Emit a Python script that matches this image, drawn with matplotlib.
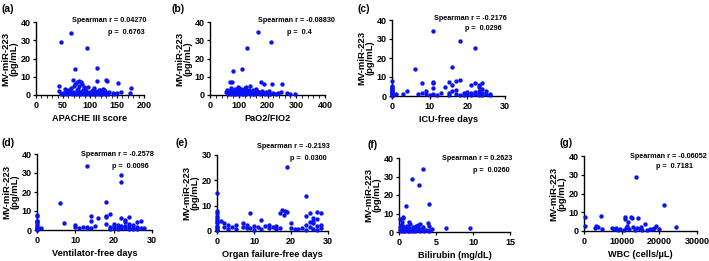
import matplotlib
matplotlib.use("Agg")
import matplotlib.pyplot as plt

plt.rcParams['font.family'] = ['Liberation Sans', 'DejaVu Sans']
plt.rcParams['font.weight'] = 'bold'

W, H = 709, 261

# (a) APACHE III score
apache_x = [47, 65, 95, 72, 113, 113, 130, 132, 152, 175, 43, 42, 174, 158, 142,
            69, 75, 80, 83, 85, 73, 71, 80, 88, 60, 78, 97, 105, 118, 122, 126,
            50, 52, 55, 57, 58, 62, 63, 66, 68, 70, 74, 76, 77, 79, 82, 84, 86, 87,
            89, 90, 92, 93, 96, 98, 100, 101, 103, 104, 106, 108, 109, 110, 112, 115,
            116, 117, 119, 120, 121, 123, 124, 125, 127, 128, 131, 134, 136, 145, 150,
            64, 91, 107, 46, 54]
apache_y = [29.0, 34.2, 25.5, 14.0, 15.0, 7.5, 8.0, 7.6, 6.8, 3.8, 4.8, 2.2, 0.9, 1.6, 1.2,
            8.2, 7.3, 7.6, 7.0, 6.3, 6.0, 5.0, 5.2, 4.3, 2.8, 3.5, 4.2, 2.6, 3.0, 2.2, 2.5,
            1.2, 0.6, 2.0, 0.4, 1.5, 0.9, 2.3, 0.5, 1.8, 1.0, 0.3, 2.6, 1.2, 0.7, 1.9, 0.4, 1.4, 2.8,
            0.8, 1.6, 0.3, 2.1, 1.0, 0.5, 1.7, 0.9, 2.4, 0.4, 1.3, 0.7, 2.0, 1.1, 0.5, 1.8,
            0.6, 2.7, 1.0, 0.3, 1.5, 0.8, 3.4, 1.2, 0.5, 2.0, 1.0, 0.6, 1.6, 0.5, 1.0,
            4.0, 3.6, 3.9, 0.8, 3.2]

# (b) PaO2/FIO2
pf_x = [168, 211, 128, 81, 112, 75, 70, 249, 215, 177, 188, 125, 267, 296, 247, 280,
        55, 60, 62, 65, 68, 72, 74, 78, 80, 84, 86, 88, 90, 93, 95, 98, 100, 103, 105,
        108, 110, 114, 116, 118, 120, 122, 126, 130, 133, 136, 138, 140, 145, 148, 150,
        155, 158, 162, 165, 170, 173, 180, 185, 190, 195, 200, 205, 210, 220, 230, 238,
        125, 140, 160, 100]
pf_y = [34.7, 29.2, 25.6, 13.3, 14.4, 7.3, 6.9, 5.9, 6.0, 7.0, 6.0, 4.5, 1.0, 0.5, 1.5, 0.8,
        1.5, 3.0, 0.5, 2.2, 1.0, 4.0, 0.3, 2.5, 1.2, 0.6, 3.5, 1.8, 0.4, 2.7, 1.0, 4.5, 0.5, 2.0, 1.2,
        3.2, 0.3, 1.6, 2.5, 0.8, 4.0, 1.5, 0.4, 2.2, 1.0, 3.0, 0.5, 1.8, 1.2, 0.3, 2.6,
        1.5, 0.6, 2.0, 1.0, 1.7, 0.4, 2.3, 1.1, 0.5, 1.8, 0.8, 2.0, 0.4, 1.2, 0.6, 1.0,
        2.8, 5.0, 3.5, 3.8]

# (c) ICU-free days
icu_x = [11, 18, 22, 6, 16,
         0, 0, 0, 0, 0, 0, 0, 0, 0, 0, 0, 0,
         1, 3, 4, 7, 8, 8, 9, 9, 11, 11, 11, 11, 13, 14, 15, 15, 15, 16, 17, 17, 17, 18, 18,
         19, 20, 21, 21, 21, 22, 22, 22, 23, 23, 23, 23, 23, 24, 24, 24, 24, 25, 25, 26, 26,
         20, 19, 12, 10, 16]
icu_y = [34.2, 29.1, 25.4, 14.0, 15.1,
         8, 5.5, 5, 4.3, 3.5, 3, 2.5, 2, 1.5, 1, 0.6, 0.2,
         1.0, 1.2, 2.4, 0.8, 7.0, 1.8, 2.5, 1.0, 7.5, 6.7, 4.2, 1.2, 1.8, 4.8, 7.4, 1.8, 0.5, 6.0,
         8.1, 3.0, 1.0, 8.3, 0.5,
         1.5, 1.0, 5.8, 1.8, 0.4, 6.6, 2.0, 1.0, 5.7, 4.5, 2.5, 1.2, 0.3, 7.0, 3.8, 1.8, 0.6,
         2.7, 1.2, 1.0, 0.3,
         2.2, 0.4, 0.6, 0.4, 2.5]

# (d) Ventilator-free days
vent_x = [13, 22, 22, 6, 18,
          0, 0, 0, 0, 0, 0, 0, 0, 0, 0, 0, 1,
          7, 10, 10, 11, 12, 13, 13, 14, 14, 14, 15, 16, 18, 18, 18, 19, 19, 19, 20, 20, 21, 21,
          22, 22, 22, 23, 23, 23, 23, 24, 24, 24, 24, 25, 25, 26, 26, 27, 27, 28, 21, 20, 25, 26]
vent_y = [33.8, 28.8, 25.3, 14, 15,
          8, 7.5, 5, 4.5, 4, 3, 2, 1.5, 1, 0.5, 0.2, 1.2,
          3.8, 2.5, 1.8, 1.2, 1.5, 1.8, 0.8, 7.4, 5, 1.2, 2.3, 6.2, 7.4, 6.8, 3.0, 8.3, 1.5, 0.5,
          3.3, 1.0, 2.5, 1.2,
          6.5, 2.0, 0.8, 5.5, 4.0, 2.2, 1.0, 7.0, 3.2, 1.5, 0.6, 2.5, 1.0, 4.0, 1.5, 4.7, 1.0,
          0.8, 0.3, 2.0, 0.3, 0.5]

# (e) Organ failure-free days
organ_x = [19, 24, 0, 0, 0, 0, 0, 0, 0, 0, 0, 0, 0, 0, 0,
           1, 2, 2, 3, 3, 4, 5, 5, 7, 7, 8, 8, 9, 9, 10, 10, 11, 12, 12, 13, 14, 14, 15, 16, 16,
           17, 17, 17.5, 18, 18.5, 19, 20, 20, 21, 22, 23, 24, 24, 24, 25, 25, 26, 26, 26,
           27, 27, 27, 27, 28, 28, 28, 26, 25]
organ_y = [25.3, 14, 15, 8, 7, 6, 5, 4.5, 3.5, 3, 2, 1.5, 1, 0.5, 0.2,
           3.8, 3.2, 1.5, 2.5, 0.8, 1.4, 2.2, 0.8, 3.0, 1.5, 2.5, 1.0, 7.0, 1.2, 2.0, 0.5, 1.5,
           4.2, 0.6, 2.0, 1.0, 2.2, 1.5, 1.8, 0.6,
           1.0, 7.3, 8.3, 6.2, 7.8, 7.6, 3.0, 1.0, 0.8, 0.8, 1.0, 6.0, 2.5, 0.5, 7.0, 1.5, 5.0,
           3.0, 0.8, 7.5, 4.8, 2.0, 0.4, 7.2, 2.5, 1.0, 4.0, 3.5]

# (f) Bilirubin (mg/dL)
bili_x = [3.3, 1.7, 2.75, 0.9, 4.1, 6.3, 9.6, 0.2, 0.5, 0.6, 1.3, 2.5,
          0.1, 0.2, 0.3, 0.3, 0.4, 0.5, 0.6, 0.7, 0.8, 0.9, 1.0, 1.1, 1.2, 1.4, 1.5, 1.6,
          1.8, 1.9, 2.0, 2.2, 2.3, 2.5, 2.6, 2.8, 2.9, 3.0, 3.2, 3.4, 3.7, 3.9, 4.0, 4.2,
          4.4, 4.1, 1.3, 0.4]
bili_y = [34, 28.8, 25.3, 14, 15, 2.2, 2.3, 6.8, 7.5, 7.9, 5.3, 3.7,
          1.0, 2.5, 0.5, 4.0, 1.5, 0.8, 3.0, 1.8, 0.4, 2.2, 1.0, 3.5, 0.6, 2.0, 4.5, 1.2,
          0.5, 2.8, 1.5, 0.8, 3.2, 1.0, 2.2, 4.2, 0.5, 1.6, 2.5, 0.8, 1.2, 4.8, 3.5, 1.0,
          1.8, 0.3, 0.3, 5.5]

# (g) WBC (cells/uL)
wbc_x = [13700, 21300, 200, 300, 4500, 3300, 3800, 3000, 4700, 10800, 10800, 12400, 12800,
         11800, 14300, 24500, 19200, 16200,
         7500, 8000, 8500, 9000, 9500, 10500, 11200, 11500, 12000, 13000, 13500, 14000,
         14800, 15200, 16800, 17500, 18200, 18700, 19800, 15500]
wbc_y = [29, 14, 7.6, 2.5, 8, 2.9, 2.0, 1.6, 1.0, 6.3, 7.3, 7.5, 7.0,
         5, 7.0, 2.3, 2.8, 3.5,
         1.8, 1.0, 1.6, 0.5, 1.2, 0.8, 1.8, 2.5, 1.0, 2.2, 0.6, 1.5,
         1.0, 2.0, 0.8, 1.2, 0.9, 1.5, 1.3, 0.4]

panels = [
    # label, x, y, xlabel, xlim, xticks, minor step, ylim, r, p
    ('(a)', apache_x, apache_y, 'APACHE III score', 200, [0, 50, 100, 150, 200], 10, 40, '0.04270', '0.6763'),
    ('(b)', pf_x, pf_y, 'PaO2/FIO2', 400, [0, 100, 200, 300, 400], 20, 40, '-0.08830', '0.4'),
    ('(c)', icu_x, icu_y, 'ICU-free days', 30, [0, 10, 20, 30], None, 40, '-0.2176', '0.0296'),
    ('(d)', vent_x, vent_y, 'Ventilator-free days', 30, [0, 10, 20, 30], None, 40, '-0.2578', '0.0096'),
    ('(e)', organ_x, organ_y, 'Organ failure-free days', 30, [0, 10, 20, 30], None, 30, '-0.2193', '0.0300'),
    ('(f)', bili_x, bili_y, 'Bilirubin (mg/dL)', 15, [0, 5, 10, 15], None, 40, '0.2623', '0.0260'),
    ('(g)', wbc_x, wbc_y, 'WBC (cells/\u00b5L)', 30000, [0, 10000, 20000, 30000], None, 40, '-0.06052', '0.7181'),
]

# pixel boxes of the axes: left, right, top, bottom
boxes = [(36, 144, 22, 95), (210, 325, 22, 95), (392, 505, 20, 96),
         (37, 152, 154, 230), (217, 328, 155, 231), (399, 510, 158, 232), (584, 697, 156, 231)]
# panel label position (left, center y)
label_pos = [(2, 9), (172, 9), (357, 9), (2, 143), (175, 143), (367, 145), (560, 143)]
# spearman line end x, y ; p line start x, y
stat_pos = [(146, 21, 108, 33), (335, 20, 287, 33), (507, 18, 465, 29),
            (154, 155, 112, 167), (330, 146, 290, 159), (512, 158, 473, 170),
            (707, 156, 656, 167)]

fig = plt.figure(figsize=(W / 100, H / 100), dpi=100)


def fx(x):
    return x / W


def fy(y):
    return 1 - y / H


for i, (lab, xs, ys, xlabel, xmax, xticks, minor, ymax, r, p) in enumerate(panels):
    l, rr, t, b = boxes[i]
    ax = fig.add_axes([fx(l), fy(b), (rr - l) / W, (b - t) / H])
    ax.scatter(xs, ys, s=10, color='#0a14f0', linewidths=0, clip_on=False, zorder=3)
    ax.set_xlim(0, xmax)
    ax.set_ylim(0, ymax)
    ax.set_xticks(xticks)
    ax.set_xticklabels([str(v) for v in xticks])
    ax.set_yticks(list(range(0, ymax + 1, 10)))
    if minor:
        ax.set_xticks(list(range(0, xmax + 1, minor)), minor=True)
        ax.tick_params(axis='x', which='minor', length=1.8, width=0.6)
    for s in ['top', 'right']:
        ax.spines[s].set_visible(False)
    for s in ['left', 'bottom']:
        ax.spines[s].set_linewidth(1.0)
    ax.tick_params(axis='both', which='major', length=2.5, width=0.9, labelsize=6.5, pad=1.5)
    ax.set_xlabel(xlabel, fontsize=6.6, fontweight='bold', labelpad=3)
    ax.set_ylabel('MV-miR-223\n(pg/mL)', fontsize=6.8, fontweight='bold', labelpad=1,
                  linespacing=1.0)
    for tl in ax.get_xticklabels() + ax.get_yticklabels():
        tl.set_fontweight('bold')

    lx, ly = label_pos[i]
    fig.text(fx(lx), fy(ly), lab, fontsize=7.5, fontweight='bold', ha='left', va='center')
    ex, ey, px, py = stat_pos[i]
    fig.text(fx(ex), fy(ey), 'Spearman r = ' + r, fontsize=5.2, fontweight='bold',
             ha='right', va='center')
    fig.text(fx(px), fy(py), 'p =  ' + p, fontsize=5.2, fontweight='bold',
             ha='left', va='center')

fig.savefig('out.png', dpi=100)
